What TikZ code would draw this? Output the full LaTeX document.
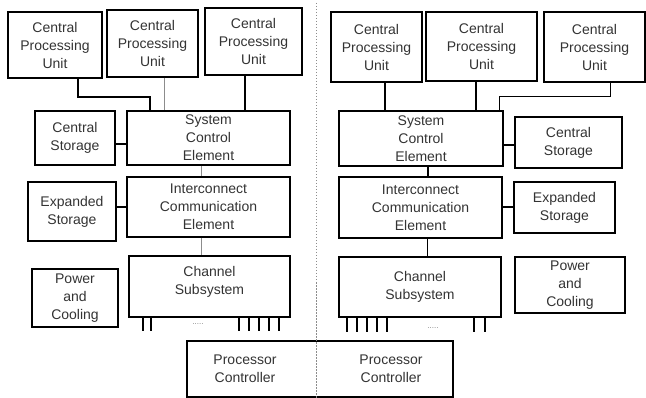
\documentclass[tikz,border=0pt]{standalone}
\usepackage{fontspec}
\setmainfont{Liberation Sans}
\usepackage{tikz}
\usetikzlibrary{calc}

\tikzset{
  unit/.style={draw, line width=2pt, align=center, inner sep=0pt,
    font=\fontsize{14}{18}\selectfont, text=black!80},
  link/.style={line width=2pt},
  thinlink/.style={line width=1pt, black!45},
  tickmark/.style={line width=2pt},
  divider/.style={black!45, line width=0.8pt, dash pattern=on 1.5pt off 1.5pt}
}

\begin{document}
\begin{tikzpicture}[x=1pt, y=-1pt]
      \useasboundingbox (0, 0) rectangle (646, 398);
      % left half
      \node[unit, minimum width=94, minimum height=66] (cpuA) at (55, 45) {Central\\Processing\\Unit};
      \node[unit, minimum width=91, minimum height=67] (cpuB) at (152.5, 43.5) {Central\\Processing\\Unit};
      \node[unit, minimum width=97, minimum height=67] (cpuC) at (253.5, 41.5) {Central\\Processing\\Unit};
      \node[unit, minimum width=80, minimum height=54] (storA) at (75, 138) {Central\\Storage};
      \node[unit, minimum width=163, minimum height=54] (sceA) at (208.5, 138) {System\\Control\\Element};
      \node[unit, minimum width=88, minimum height=59] (expA) at (72, 211.5) {Expanded\\Storage};
      \node[unit, minimum width=163, minimum height=60] (iceA) at (208.5, 207) {Interconnect\\Communication\\Element};
      \node[unit, minimum width=86, minimum height=58] (powA) at (75, 298) {Power\\and\\Cooling};
      \node[unit, minimum width=161, minimum height=61, text depth=12pt] (chanA) at (209.5, 286.5) {Channel\\Subsystem};
      % right half
      \node[unit, minimum width=91, minimum height=70] (cpuD) at (376.5, 47) {Central\\Processing\\Unit};
      \node[unit, minimum width=111, minimum height=69] (cpuE) at (481.5, 46.5) {Central\\Processing\\Unit};
      \node[unit, minimum width=101, minimum height=70] (cpuF) at (594.5, 47) {Central\\Processing\\Unit};
      \node[unit, minimum width=164, minimum height=55] (sceB) at (421, 138.5) {System\\Control\\Element};
      \node[unit, minimum width=107, minimum height=51] (storB) at (568.5, 142.5) {Central\\Storage};
      \node[unit, minimum width=163, minimum height=61] (iceB) at (420.5, 207.5) {Interconnect\\Communication\\Element};
      \node[unit, minimum width=101, minimum height=51] (expB) at (564.5, 207.5) {Expanded\\Storage};
      \node[unit, minimum width=162, minimum height=60] (chanB) at (420, 287) {Channel\\Subsystem};
      \node[unit, minimum width=110, minimum height=56] (powB) at (570, 285) {Power\\and\\Cooling};
      % shared processor controller
      \node[unit, minimum width=266, minimum height=56] (ctl) at (320, 369) {};
      \node[unit, draw=none] (ctlA) at ([xshift=-75]ctl.center) {Processor\\Controller};
      \node[unit, draw=none] (ctlB) at ([xshift=71]ctl.center) {Processor\\Controller};
      \coordinate (divTop) at (316, 3);
      \coordinate (divBot) at (316, 398);
      \draw[divider] (divTop) -- (divBot);

      % connections, left
      \draw[link] ([xshift=23]cpuA.south) -- ++(0, 18) -| ([xshift=-58.5]sceA.north);
      \draw[thinlink] ([xshift=11.5]cpuB.south) -- ([xshift=11.5]cpuB.south |- sceA.north);
      \draw[link] ([xshift=-8.5]cpuC.south) -- ([xshift=-8.5]cpuC.south |- sceA.north);
      \draw[link] ([yshift=-6]storA.east) -- ([yshift=-6]sceA.west);
      \draw[thinlink] ([xshift=-7.5]sceA.south) -- ([xshift=-7.5]sceA.south |- iceA.north);
      \draw[link] (iceA.west) -- (iceA.west -| expA.east);
      \draw[thinlink] ([xshift=-7.5]iceA.south) -- ([xshift=-7.5]iceA.south |- chanA.north);
      % connections, right
      \draw[link] ([xshift=8.5]cpuD.south) -- ([xshift=8.5]cpuD.south |- sceB.north);
      \draw[link] ([xshift=-5.5]cpuE.south) -- ([xshift=-5.5]cpuE.south |- sceB.north);
      \draw[thinlink, black] ([xshift=15.5]cpuF.south) -- ++(0, 14) -| ([xshift=78]sceB.north);
      \draw[link] ([yshift=-6.5]sceB.east) -- ([yshift=-6.5]sceB.east -| storB.west);
      \draw[thinlink, black, line width=1.3pt] ([xshift=7]sceB.south) -- ([xshift=7]sceB.south |- iceB.north);
      \draw[link] (iceB.east) -- (expB.west);
      \draw[thinlink, black, line width=1.3pt] ([xshift=7]iceB.south) -- ([xshift=7]iceB.south |- chanB.north);

      % channel paths
      \foreach \dx in {15, 23, 111, 121, 131, 141, 151}
        \draw[tickmark] ([xshift=\dx]chanA.south west) -- ++(0, 13);
      \foreach \dx in {9, 19, 29, 39, 49, 136, 147}
        \draw[tickmark] ([xshift=\dx]chanB.south west) -- ++(0, 14);
      \node[font=\footnotesize, text=black!50, inner sep=0pt] (dotsA) at ([xshift=-11.5, yshift=-6]chanA.south) {.....};
      \node[font=\footnotesize, text=black!50, inner sep=0pt] (dotsB) at ([xshift=13, yshift=-10]chanB.south) {.....};
    \end{tikzpicture}
\end{document}
